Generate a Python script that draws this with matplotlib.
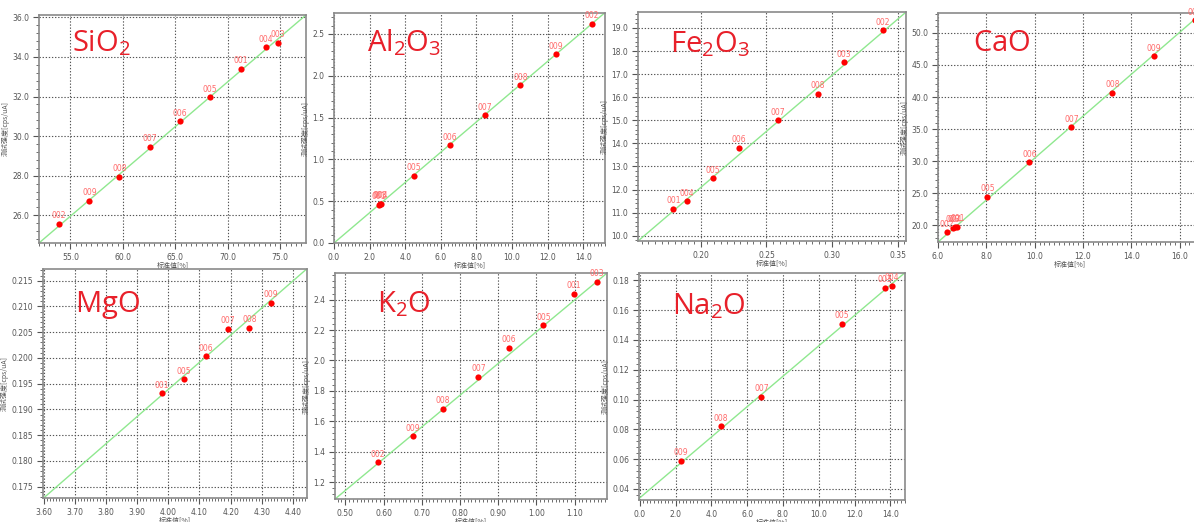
import numpy as np
import matplotlib
matplotlib.use("Agg")
import matplotlib.pyplot as plt
from matplotlib.ticker import MultipleLocator, AutoMinorLocator, FormatStrFormatter

plt.rcParams['font.family'] = ['Noto Sans CJK SC', 'DejaVu Sans']
plt.rcParams['mathtext.fontset'] = 'custom'
plt.rcParams['mathtext.rm'] = 'Open Sans'

W, H = 1194, 522

# ---- data ----
names = ['SiO$_2$', 'Al$_2$O$_3$', 'Fe$_2$O$_3$', 'CaO', 'MgO', 'K$_2$O', 'Na$_2$O']

sio2_x = [53.9, 56.8, 59.65, 62.55, 65.4, 68.3, 71.25, 73.6, 74.8]
sio2_y = [25.58, 26.73, 27.94, 29.46, 30.75, 31.97, 33.40, 34.48, 34.73]
sio2_id = ['002', '009', '008', '007', '006', '005', '001', '004', '003']

al_x = [2.5, 2.6, 2.65, 4.51, 6.5, 8.48, 10.47, 12.47, 14.48]
al_y = [0.455, 0.47, 0.47, 0.807, 1.17, 1.525, 1.885, 2.26, 2.62]
al_id = ['001', '003', '004', '005', '006', '007', '008', '009', '002']

fe_x = [0.179, 0.189, 0.209, 0.229, 0.259, 0.289, 0.309, 0.339]
fe_y = [11.17, 11.50, 12.49, 13.80, 15.00, 16.15, 17.51, 18.91]
fe_id = ['001', '004', '005', '006', '007', '008', '003', '002']

ca_x = [6.37, 6.6, 6.7, 6.8, 8.04, 9.78, 11.52, 13.21, 14.94, 16.62]
ca_y = [18.96, 19.6, 19.7, 19.75, 24.42, 29.8, 35.3, 40.7, 46.35, 52.0]
ca_id = ['002', '003', '004', '001', '005', '006', '007', '008', '009', '001']

mg_x = [3.98, 4.05, 4.12, 4.19, 4.26, 4.33]
mg_y = [0.1931, 0.1959, 0.2003, 0.2057, 0.2059, 0.2107]
mg_id = ['001', '005', '006', '007', '008', '009']

k_x = [0.586, 0.677, 0.756, 0.848, 0.928, 1.018, 1.098, 1.158]
k_y = [1.33, 1.50, 1.683, 1.894, 2.083, 2.233, 2.44, 2.518]
k_id = ['002', '009', '008', '007', '006', '005', '001', '003']

na_x = [2.29, 4.535, 6.8, 11.28, 13.7, 14.1]
na_y = [0.0589, 0.0822, 0.102, 0.151, 0.1751, 0.1764]
na_id = ['009', '008', '007', '005', '003', '004']

# calibration lines (slope, intercept)
fit_k = [0.4527, 0.181, 48.53, 3.27, 0.0527, 2.089, 0.0102]
fit_b = [1.06, 0.0, 2.39, -2.22, -0.01692, 0.100, 0.0340]

xs = [sio2_x, al_x, fe_x, ca_x, mg_x, k_x, na_x]
ys = [sio2_y, al_y, fe_y, ca_y, mg_y, k_y, na_y]
ids = [sio2_id, al_id, fe_id, ca_id, mg_id, k_id, na_id]

# ---- layout ----
# axes box in pixels: left, right, top, bottom
boxes = [(39, 306, 15, 243), (334, 605, 13, 243), (638, 906, 12, 241),
         (938, 1202, 13, 242), (43, 307, 269, 498), (335, 607, 273, 499),
         (639, 905, 273, 500)]
xlims = [(52.0, 77.45), (0.0, 15.22), (0.152, 0.3564), (6.0, 16.92),
         (3.598, 4.445), (0.473, 1.1845), (-0.04, 14.82)]
ylims = [(24.6, 36.12), (0.0, 2.75), (9.77, 19.69), (17.4, 53.1),
         (0.1728, 0.21727), (1.0885, 2.575), (0.0326, 0.1849)]
xsteps = [5, 2, 0.05, 2, 0.1, 0.1, 2]
ysteps = [2, 0.5, 1, 5, 0.005, 0.2, 0.02]
xfmt = ['%.1f', '%.1f', '%.2f', '%.1f', '%.2f', '%.2f', '%.1f']
yfmt = ['%.1f', '%.1f', '%.1f', '%.1f', '%.3f', '%.1f', '%.2f']
# element label position (px): left, baseline
name_pos = [(72, 51), (367, 51), (670, 52), (973, 51), (75, 312), (377, 312), (672, 314)]

fig = plt.figure(figsize=(W / 100, H / 100), dpi=100)
fig.patch.set_facecolor('white')

for i in range(7):
    l, r, t, b = boxes[i]
    ax = fig.add_axes([l / W, 1 - b / H, (r - l) / W, (b - t) / H])
    ax.set_xlim(*xlims[i])
    ax.set_ylim(*ylims[i])
    ax.xaxis.set_major_locator(MultipleLocator(xsteps[i]))
    ax.yaxis.set_major_locator(MultipleLocator(ysteps[i]))
    ax.xaxis.set_minor_locator(AutoMinorLocator(10))
    ax.yaxis.set_minor_locator(AutoMinorLocator(5))
    ax.xaxis.set_major_formatter(FormatStrFormatter(xfmt[i]))
    ax.yaxis.set_major_formatter(FormatStrFormatter(yfmt[i]))
    ax.grid(True, which='major', color='#555555', linestyle=(0, (1.2, 1.6)), linewidth=0.8)
    ax.set_axisbelow(True)
    for s in ax.spines.values():
        s.set_color('#8a8a8a')
        s.set_linewidth(1.2)
    ax.tick_params(which='major', length=4, width=0.8, color='#555555',
                   labelsize=5.5, labelcolor='#555555', pad=3)
    ax.tick_params(which='minor', length=2, width=0.6, color='#555555')
    for lab in ax.get_xticklabels() + ax.get_yticklabels():
        lab.set_family('DejaVu Sans')

    xx = np.array(xlims[i])
    ax.plot(xx, fit_k[i] * xx + fit_b[i], color='#8fe88f', linewidth=1.0, zorder=2)
    ax.scatter(xs[i], ys[i], s=20, color='#ff0000', zorder=3, linewidths=0)
    for x, y, s in zip(xs[i], ys[i], ids[i]):
        ax.annotate(s, (x, y), xytext=(0, 2.5), textcoords='offset points',
                    ha='center', va='bottom', fontsize=5.5, color='#ff6b6b',
                    family='DejaVu Sans', zorder=4, annotation_clip=False)

    ax.set_xlabel('标准值[%]', fontsize=5, color='#555555', labelpad=0)
    ax.set_ylabel('测试强度[cps/uA]', fontsize=5, color='#555555', labelpad=2)

    nx, ny = name_pos[i]
    fig.text(nx / W, 1 - ny / H, r'$\mathrm{' + names[i].replace('$', '') + '}$',
             fontsize=21, color='#e8202a', ha='left', va='baseline')

fig.savefig('out.png', dpi=100, facecolor='white')
